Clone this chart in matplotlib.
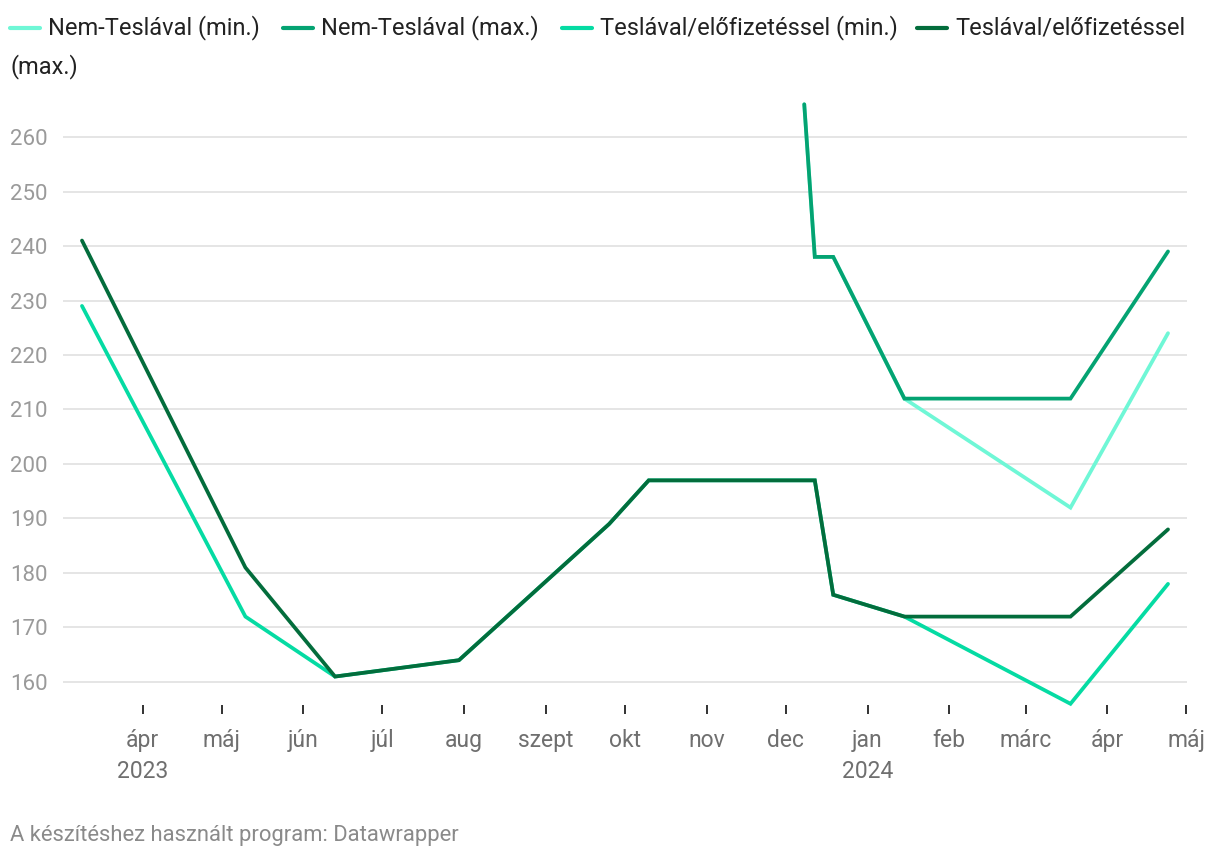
import numpy as np
import pandas as pd
import matplotlib
matplotlib.use("Agg")
import matplotlib.pyplot as plt
import matplotlib.dates as mdates
from matplotlib.lines import Line2D

plt.rcParams['font.family'] = ['Roboto', 'DejaVu Sans']

# adatok
tesla_dates = pd.to_datetime(['2023-03-09', '2023-05-10', '2023-06-13', '2023-07-30',
                              '2023-09-25', '2023-10-10', '2023-12-12', '2023-12-19',
                              '2024-01-15', '2024-03-18', '2024-04-24'])
tesla_min = [229, 172, 161, 164, 189, 197, 197, 176, 172, 156, 178]
tesla_max = [241, 181, 161, 164, 189, 197, 197, 176, 172, 172, 188]

nem_dates = pd.to_datetime(['2023-12-08', '2023-12-12', '2023-12-19', '2024-01-15',
                            '2024-03-18', '2024-04-24'])
nem_min = [266, 238, 238, 212, 192, 224]
nem_max = [266, 238, 238, 212, 212, 239]

labels = ['Nem-Teslával (min.)', 'Nem-Teslával (max.)',
          'Teslával/előfizetéssel (min.)', 'Teslával/előfizetéssel']
colors = ['#6ff7d6', '#04a372', '#05dba3', '#036d3c']

month_ticks = pd.date_range('2023-04-01', '2024-05-01', freq='MS')
month_names = ['ápr\n2023', 'máj', 'jún', 'júl', 'aug', 'szept', 'okt', 'nov', 'dec',
               'jan\n2024', 'feb', 'márc', 'ápr', 'máj']
y_ticks = [160, 170, 180, 190, 200, 210, 220, 230, 240, 250, 260]

W, H = 1220, 860
fig = plt.figure(figsize=(W / 100, H / 100), dpi=100)

def fx(x):
    return x / W

def fy(y):
    return 1 - y / H

ppu = 5.45  # pixel per unit
ax = fig.add_axes([fx(63), fy(705), fx(1187 - 63), (705 - 93) / H])
ax.set_ylim(160 - (705 - 682) / ppu, 260 + (137 - 93) / ppu)
x0 = mdates.date2num(pd.Timestamp('2023-04-01'))
x1 = mdates.date2num(pd.Timestamp('2024-05-01'))
ax.set_xlim(x0 - 30.2, x1 + 0.2)

series = [(nem_dates, nem_min), (nem_dates, nem_max),
          (tesla_dates, tesla_min), (tesla_dates, tesla_max)]
for (d, v), c in zip(series, colors):
    ax.plot(d, v, color=c, lw=2.7, solid_joinstyle='miter', solid_capstyle='round',
            clip_on=False, zorder=3)

ax.set_yticks(y_ticks)
ax.grid(axis='y', color='#e3e3e3', lw=1.3)
ax.set_axisbelow(True)
for s in ax.spines.values():
    s.set_visible(False)

ax.tick_params(axis='y', length=0, pad=38, labelsize=16, labelcolor='#9a9a9a')
for t in ax.get_yticklabels():
    t.set_ha('left')

ax.set_xticks(month_ticks)
ax.set_xticklabels(month_names)
ax.tick_params(axis='x', length=6.5, width=1.3, color='#222222', direction='out',
               pad=11, labelsize=16.5, labelcolor='#6f6f6f')
for t in ax.get_xticklabels():
    t.set_linespacing(1.45)

# jelmagyarázat
handle_x = [10, 283, 562, 917]
ly = 28
for hx, lab, c in zip(handle_x, labels, colors):
    fig.add_artist(Line2D([fx(hx), fx(hx + 30)], [fy(ly), fy(ly)], color=c, lw=3,
                          solid_capstyle='round', transform=fig.transFigure))
    fig.text(fx(hx + 38), fy(ly), lab, fontsize=17, color='#222222',
             ha='left', va='center')
fig.text(fx(10), fy(67), '(max.)', fontsize=17, color='#222222', ha='left', va='center')

fig.text(fx(10), fy(836), 'A készítéshez használt program: Datawrapper', fontsize=15.8,
         color='#8a8a8a', ha='left', va='center')

fig.savefig('out.png', dpi=100)
